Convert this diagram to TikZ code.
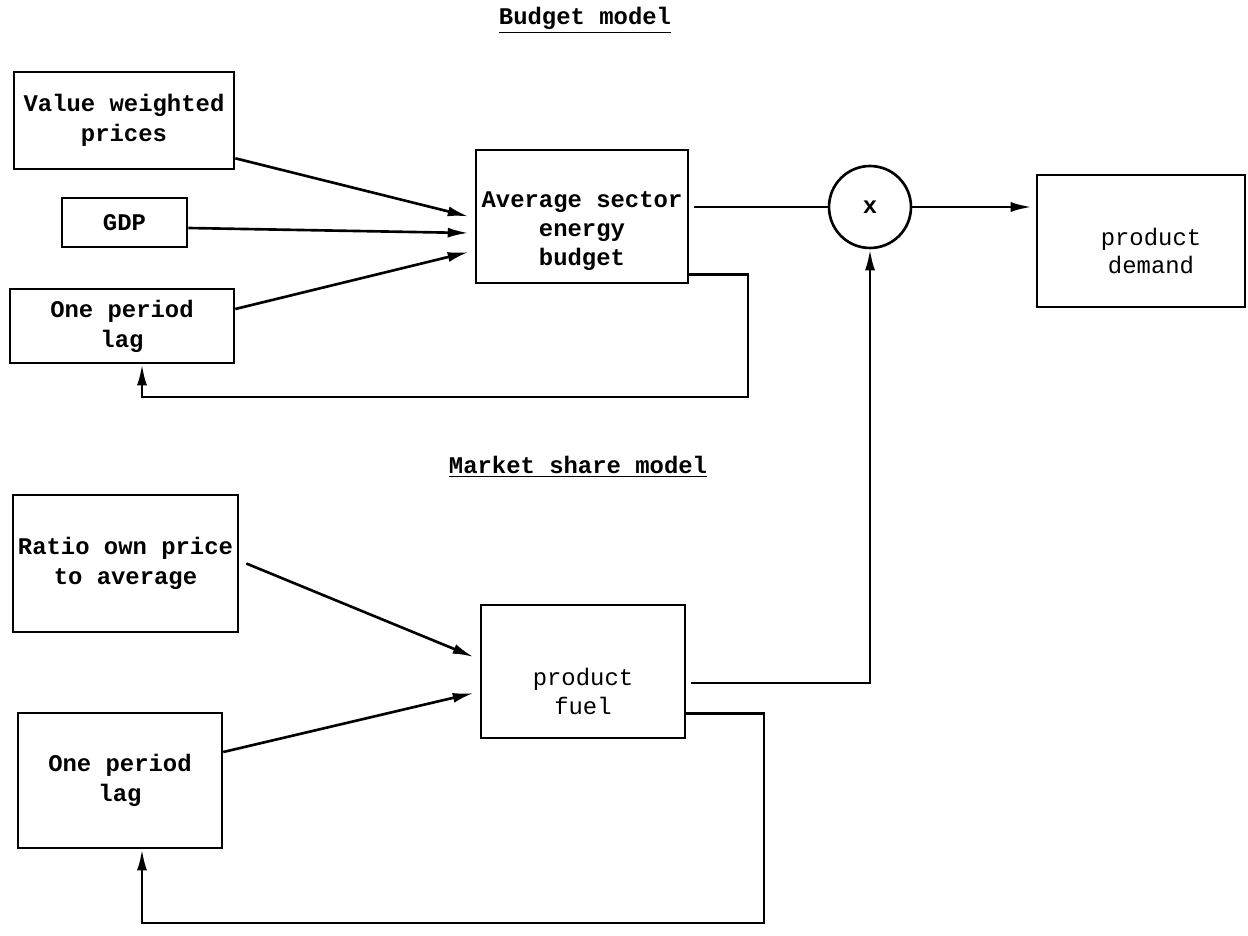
\documentclass[tikz,border=0pt]{standalone}
\usepackage{fontspec}
\newfontfamily\typewr{Liberation Mono}
\usepackage{tikz}
\usetikzlibrary{positioning,arrows.meta,calc}

\begin{document}
\begin{tikzpicture}[
    x=0.02cm, y=-0.02cm,
    font=\typewr\fontsize{13.6}{17}\selectfont,
    inblock/.style={draw, line width=1.5pt, align=center, inner sep=2pt, font=\typewr\bfseries\fontsize{13.6}{17}\selectfont},
    outblock/.style={draw, line width=1.5pt, align=center, inner sep=2pt},
    boxtext/.style={align=center, font=\typewr\bfseries\fontsize{13.6}{16.5}\selectfont},
    plaintext/.style={align=center, font=\typewr\fontsize{13.6}{16.5}\selectfont},
    flowarr/.style={line width=1.5pt, -{Latex[length=4.2mm,width=2mm]}},
    plainline/.style={line width=1.4pt},
    heading/.style={font=\typewr\bfseries\fontsize{13.6}{17}\selectfont}
]
\useasboundingbox (0,0) rectangle (1248,936);

\node[heading] (budgettitle) at (585,20) {\underline{Budget model}};
\node[heading] (markettitle) at (578,467) {\underline{Market share model}};

% budget model
\node[inblock, minimum width=4.4cm, minimum height=1.94cm] (vwp) at (124,120.5) {Value weighted\\prices};
\node[inblock, minimum width=2.5cm, minimum height=0.98cm] (gdp) at (124.5,222.5) {GDP};
\node[inblock, minimum width=4.48cm, minimum height=1.48cm] (lagA) at (122,326) {One period\\lag};
\node[inblock, minimum width=4.24cm, minimum height=2.66cm,
      label={[boxtext, yshift=-0.3cm]center:Average sector\\energy\\budget}] (avg) at (582,216.5) {};
\node[inblock, circle, minimum size=1.64cm, inner sep=0pt] (mult) at (870,207) {x};
\node[outblock, minimum width=4.16cm, minimum height=2.64cm,
      label={[plaintext, xshift=0.2cm, yshift=-0.2cm]center:product\\demand}] (demand) at (1141,241) {};

% market share model
\node[inblock, minimum width=4.5cm, minimum height=2.74cm] (ratio) at (125.5,563.5) {Ratio own price\\to average};
\node[outblock, minimum width=4.08cm, minimum height=2.66cm,
      label={[plaintext, yshift=-0.4cm]center:product\\fuel}] (fuel) at (583,671.5) {};
\node[inblock, minimum width=4.08cm, minimum height=2.7cm] (lagB) at (120,780.5) {One period\\lag};

\coordinate (loopA) at (748,397);
\coordinate (loopB) at (764,923);

\draw[flowarr] ([yshift=0.24cm]vwp.south east) -- ([xshift=-0.12cm]avg.west);
\draw[flowarr] ([yshift=-0.11cm]gdp.east) -- ([xshift=-0.12cm,yshift=-0.33cm]avg.west);
\draw[flowarr] ([yshift=0.34cm]lagA.east) -- ([xshift=-0.12cm,yshift=-0.71cm]avg.west);
\draw[plainline] ([xshift=0.1cm]avg.east |- mult.west) -- (mult.west);
\draw[flowarr] (mult.east) -- ([xshift=-0.08cm]mult.east -| demand.west);
\draw[flowarr] ([yshift=0.2cm]avg.south east) -| (loopA) -| ([xshift=0.4cm]lagA.south);

\draw[flowarr] ([xshift=0.14cm]ratio.east) -- ([xshift=-0.12cm,yshift=0.29cm]fuel.west);
\draw[flowarr] ([yshift=0.57cm]lagB.east) -- ([xshift=-0.12cm,yshift=-0.43cm]fuel.west);
\draw[flowarr] ([xshift=0.1cm,yshift=-0.23cm]fuel.east) -| (mult.south);
\draw[flowarr] ([yshift=0.52cm]fuel.south east) -| (loopB) -| ([xshift=0.44cm]lagB.south);

\end{tikzpicture}
\end{document}
